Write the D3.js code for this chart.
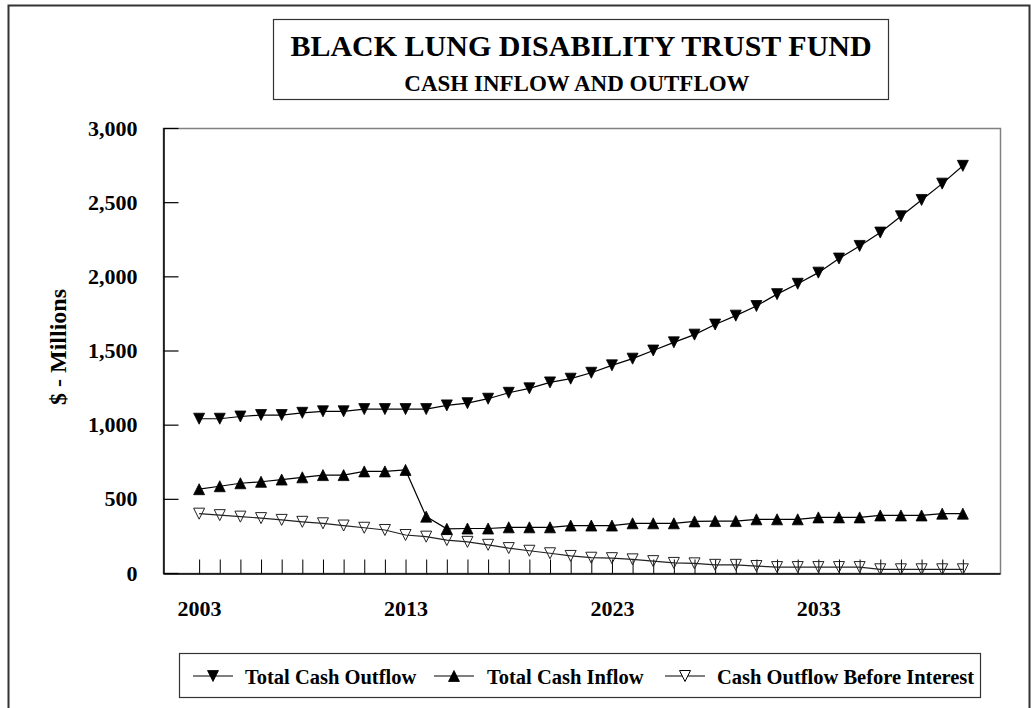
<!DOCTYPE html>
<html>
<head>
<meta charset="utf-8">
<script src="https://cdn.jsdelivr.net/npm/d3@7/dist/d3.min.js"></script>
<style>
  html, body { margin: 0; padding: 0; background: #fff; }
  svg { display: block; }
  text { font-family: "Liberation Serif", "Times New Roman", serif; font-weight: bold; fill: #000; }
</style>
</head>
<body>
<svg id="chart" width="1031" height="708"></svg>
<script>
// Projection years and the three cash-flow series ($ millions)
const years = d3.range(2003, 2041);
const totalCashOutflow = [
  1040, 1040, 1055, 1065, 1065, 1080, 1090, 1090, 1105, 1105,
  1105, 1105, 1130, 1145, 1175, 1215, 1245, 1285, 1310, 1350,
  1400, 1445, 1500, 1555, 1607, 1675, 1735, 1800, 1880, 1950,
  2025, 2120, 2205, 2295, 2405, 2515, 2625, 2745
];
const totalCashInflow = [
  565, 585, 605, 615, 630, 645, 660, 660, 685, 685,
  695, 380, 298, 300, 300, 308, 308, 308, 320, 320,
  320, 335, 335, 335, 348, 350, 350, 362, 362, 362,
  375, 375, 375, 388, 388, 388, 400, 400
];
const cashOutflowBeforeInterest = [
  400, 390, 380, 370, 358, 345, 335, 320, 305, 290,
  256, 245, 222, 210, 190, 168, 150, 133, 115, 103,
  100, 92, 80, 68, 65, 55, 55, 47, 40, 40,
  40, 40, 40, 25, 25, 25, 25, 25
];
const yTicks = [0, 500, 1000, 1500, 2000, 2500, 3000];
const yearLabels = [2003, 2013, 2023, 2033];
const seriesNames = ["Total Cash Outflow", "Total Cash Inflow", "Cash Outflow Before Interest"];

const svg = d3.select("#chart");
const serif = "'Liberation Serif', 'Times New Roman', serif";

// Outer chart frame
svg.append("rect")
  .attr("x", 8.5).attr("y", 5.5).attr("width", 1021).attr("height", 720)
  .attr("fill", "none").attr("stroke", "#333").attr("stroke-width", 2);

// Title block
svg.append("rect")
  .attr("x", 273.5).attr("y", 19.5).attr("width", 615).attr("height", 80)
  .attr("fill", "#fff").attr("stroke", "#333").attr("stroke-width", 1.2);
svg.append("text").attr("x", 581).attr("y", 56)
  .attr("text-anchor", "middle").style("font-size", "30px")
  .text("BLACK LUNG DISABILITY TRUST FUND");
svg.append("text").attr("x", 577).attr("y", 91)
  .attr("text-anchor", "middle").style("font-size", "23px")
  .text("CASH INFLOW AND OUTFLOW");

// Plot area
const plot = { left: 163, right: 1000, top: 128, bottom: 573 };
const x = d3.scaleLinear().domain([2001.25, 2041.8]).range([plot.left, plot.right]);
const y = d3.scaleLinear().domain([0, 3000]).range([plot.bottom, plot.top]);

svg.append("rect")
  .attr("x", plot.left + 0.5).attr("y", plot.top + 0.5)
  .attr("width", plot.right - plot.left).attr("height", plot.bottom - plot.top)
  .attr("fill", "none").attr("stroke", "#808080").attr("stroke-width", 1.5);

// Value axis
const yAxis = svg.append("g")
  .attr("transform", `translate(${plot.left + 0.5},0)`)
  .call(d3.axisLeft(y).tickValues(yTicks).tickFormat(d3.format(","))
    .tickSizeInner(-15).tickSizeOuter(0).tickPadding(26));
yAxis.select(".domain").attr("stroke", "#000").attr("stroke-width", 1.5);
yAxis.selectAll(".tick line").attr("stroke", "#000").attr("stroke-width", 1.2);
yAxis.selectAll(".tick text").style("font-size", "22px")
  .style("font-family", serif).style("font-weight", "bold");

// Year axis
const xAxis = svg.append("g")
  .attr("transform", `translate(0,${plot.bottom + 0.5})`)
  .call(d3.axisBottom(x).tickValues(years)
    .tickFormat(d => yearLabels.includes(d) ? String(d) : "")
    .tickSizeInner(-14).tickSizeOuter(0).tickPadding(27));
xAxis.select(".domain").attr("stroke", "#000").attr("stroke-width", 1.5);
xAxis.selectAll(".tick line").attr("stroke", "#000").attr("stroke-width", 1);
xAxis.selectAll(".tick text").style("font-size", "22px")
  .style("font-family", serif).style("font-weight", "bold");

// Axis title
svg.append("text")
  .attr("transform", "translate(66,347) rotate(-90)")
  .attr("text-anchor", "middle").style("font-size", "24px")
  .text("$ - Millions");

// Triangle markers centred on a point
function triangle(cx, cy, down, s) {
  const h = s / 2;
  return down
    ? `M${cx - h},${cy - h}L${cx + h},${cy - h}L${cx},${cy + h}Z`
    : `M${cx - h},${cy + h}L${cx + h},${cy + h}L${cx},${cy - h}Z`;
}

const series = [
  { name: seriesNames[0], values: totalCashOutflow, down: true, fill: "#000", line: "#000" },
  { name: seriesNames[1], values: totalCashInflow, down: false, fill: "#000", line: "#000" },
  { name: seriesNames[2], values: cashOutflowBeforeInterest, down: true, fill: "none", line: "#222" }
];

const line = d3.line().x(d => x(d.year)).y(d => y(d.value));

series.slice().reverse().forEach(s => {
  const pts = years.map((yr, i) => ({ year: yr, value: s.values[i] }));
  const g = svg.append("g");
  g.append("path").datum(pts).attr("d", line)
    .attr("fill", "none").attr("stroke", s.line).attr("stroke-width", 1.2);
  g.selectAll("path.m").data(pts).join("path").attr("class", "m")
    .attr("d", d => triangle(x(d.year), y(d.value), s.down, 11))
    .attr("fill", s.fill).attr("stroke", s.fill === "none" ? "#222" : "#000")
    .attr("stroke-width", s.fill === "none" ? 1 : 0.8);
});

// Legend
svg.append("rect")
  .attr("x", 179.5).attr("y", 653.5).attr("width", 801).attr("height", 44)
  .attr("fill", "#fff").attr("stroke", "#333").attr("stroke-width", 1.2);
const legendItems = [
  { s: series[0], x0: 193, tx: 245 },
  { s: series[1], x0: 434, tx: 487 },
  { s: series[2], x0: 665, tx: 717 }
];
const ly = 676;
legendItems.forEach(it => {
  svg.append("line").attr("x1", it.x0).attr("x2", it.x0 + 40)
    .attr("y1", ly).attr("y2", ly).attr("stroke", "#000").attr("stroke-width", 1.2);
  svg.append("path").attr("d", triangle(it.x0 + 20, ly, it.s.down, 11))
    .attr("fill", it.s.fill === "none" ? "#fff" : it.s.fill)
    .attr("stroke", "#000").attr("stroke-width", it.s.fill === "none" ? 1 : 0.8);
  svg.append("text").attr("x", it.tx).attr("y", 684)
    .style("font-size", "20.5px").text(it.s.name);
});
</script>
</body>
</html>
